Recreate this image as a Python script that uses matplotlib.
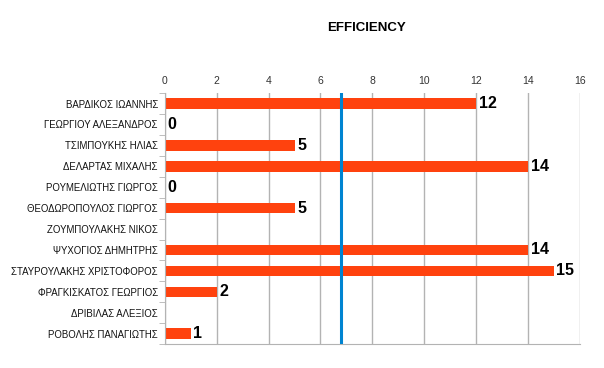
import matplotlib
matplotlib.use("Agg")
import matplotlib.pyplot as plt
import numpy as np

names = ["ΒΑΡΔΙΚΟΣ ΙΩΑΝΝΗΣ", "ΓΕΩΡΓΙΟΥ ΑΛΕΞΑΝΔΡΟΣ", "ΤΣΙΜΠΟΥΚΗΣ ΗΛΙΑΣ",
         "ΔΕΛΑΡΤΑΣ ΜΙΧΑΛΗΣ", "ΡΟΥΜΕΛΙΩΤΗΣ ΓΙΩΡΓΟΣ", "ΘΕΟΔΩΡΟΠΟΥΛΟΣ ΓΙΩΡΓΟΣ",
         "ΖΟΥΜΠΟΥΛΑΚΗΣ ΝΙΚΟΣ", "ΨΥΧΟΓΙΟΣ ΔΗΜΗΤΡΗΣ", "ΣΤΑΥΡΟΥΛΑΚΗΣ ΧΡΙΣΤΟΦΟΡΟΣ",
         "ΦΡΑΓΚΙΣΚΑΤΟΣ ΓΕΩΡΓΙΟΣ", "ΔΡΙΒΙΛΑΣ ΑΛΕΞΙΟΣ", "ΡΟΒΟΛΗΣ ΠΑΝΑΓΙΩΤΗΣ"]
efficiency = [12, 0, 5, 14, 0, 5, None, 14, 15, 2, None, 1]

vals = np.array([np.nan if v is None else v for v in efficiency], dtype=float)
average = np.nanmean(vals)

plt.rcParams["font.family"] = ["Liberation Sans", "DejaVu Sans"]

fig = plt.figure(figsize=(6.04, 3.68), dpi=100)
ax = fig.add_axes([0.273, 0.065, 0.687, 0.682])

y = np.arange(len(names))
ax.barh(y, np.nan_to_num(vals), height=0.5, color="#ff420e", zorder=2)
for yi, v in zip(y, vals):
    if not np.isnan(v):
        ax.text(v + 0.1, yi, "%d" % v, va="center", ha="left",
                fontsize=11.5, fontweight="bold", color="black")

ax.axvline(average, color="#0084d1", linewidth=2.2, zorder=3)

ax.set_xlim(0, 16)
ax.set_ylim(len(names) - 0.5, -0.5)
ax.set_xticks(range(0, 17, 2))
ax.xaxis.tick_top()
ax.tick_params(axis="x", length=0, labelsize=7.5, pad=5, colors="#333333")
ax.grid(axis="x", color="#b3b3b3", linewidth=1, zorder=0)

ax.set_yticks(y)
ax.set_yticklabels(names, fontsize=6.9, color="#111111")
ax.set_yticks(np.arange(-0.5, len(names), 1), minor=True)
ax.tick_params(axis="y", which="major", length=0, pad=5)
ax.tick_params(axis="y", which="minor", length=4, color="#b3b3b3")

for s in ["left", "bottom"]:
    ax.spines[s].set_color("#b3b3b3")
ax.spines["top"].set_visible(False)
ax.spines["right"].set_visible(False)

fig.text(0.606, 0.925, "EFFICIENCY", ha="center", va="center",
         fontsize=9.5, fontweight="bold")

fig.savefig("out.png", dpi=100)
